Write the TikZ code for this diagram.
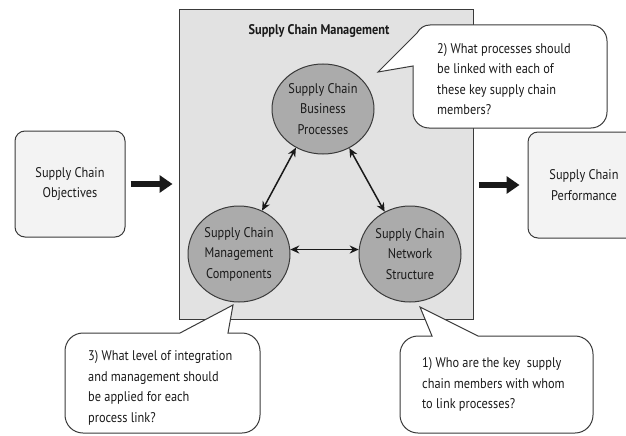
\documentclass[tikz,border=0pt]{standalone}
\usepackage{fontspec}
\setmainfont{PT Sans}[FakeStretch=0.88]
\usetikzlibrary{arrows.meta,shapes.geometric}
\definecolor{linec}{HTML}{3A3A3A}
\definecolor{textc}{HTML}{1A1A1A}
\definecolor{mainfill}{HTML}{E2E2E2}
\definecolor{sidefill}{HTML}{F3F3F3}
\definecolor{ellfill}{HTML}{ABABAB}
\begin{document}
\begin{tikzpicture}[x=1pt,y=-1pt,
  txt/.style={font=\fontsize{14}{20.5}\selectfont, text=textc},
  sidebox/.style={draw=linec, line width=1pt, fill=sidefill, rounded corners=10pt, txt, align=center, inner sep=0pt},
  bubble/.style={draw=linec, line width=1pt, fill=ellfill, ellipse, minimum width=102pt, inner sep=0pt, align=center, txt},
  bigarrow/.style={line width=5.5pt, -{Triangle[width=17pt,length=13pt]}, draw=black!90},
  link/.style={line width=1.5pt, draw=black!90, {Stealth[length=9pt,width=8pt]}-{Stealth[length=9pt,width=8pt]}},
  callout/.style={draw=linec, line width=1pt, fill=white},
  ctext/.style={txt, align=left, anchor=west, inner sep=0pt}]

\useasboundingbox (0,0) rectangle (626,436);
\clip (0,0) rectangle (626,436);

% side boxes
\node[sidebox, minimum width=110pt, minimum height=106pt] (obj) at (70,184) {Supply Chain\\Objectives};
\node[sidebox, minimum width=112pt, minimum height=106pt] (perf) at (584,185) {Supply Chain\\Performance};

% main box
\node[draw=linec, fill=mainfill, line width=1pt, minimum width=294pt, minimum height=309pt, inner sep=0pt] (scm) at (326,164.5) {};
\node[font=\fontsize{14}{16}\selectfont\bfseries, text=textc, inner sep=0pt] (title) at (319,31) {Supply Chain Management};

% ellipses
\node[bubble, minimum height=90pt] (top) at (323,109) {Supply Chain\\Business\\Processes};
\node[bubble, minimum height=96pt] (bl) at (239,254) {Supply Chain\\Management\\Components};
\node[bubble, minimum height=96pt] (br) at (410,254) {Supply Chain\\Network\\Structure};

% links
\draw[link] (top.235) -- (bl.62);
\draw[link] (top.304) -- (br.121);
\draw[link] (bl.5) -- (br.175);

% big arrows
\draw[bigarrow, shorten <=5pt, shorten >=6pt] (obj.east) -- (obj.east -| scm.west);
\draw[bigarrow, shorten <=5pt, shorten >=8pt] (scm.east |- perf.west) -- (perf.west);

% callouts
\draw[callout] (413,66) -- (378,72) -- (417,33) .. controls (420,28) and (424,25) .. (430,25) -- (591,25) .. controls (599.84,25) and (607,32.16) .. (607,41) -- (607,112) .. controls (607,120.84) and (599.84,128) .. (591,128) -- (429,128) .. controls (420.16,128) and (413,120.84) .. (413,112) -- cycle;
\draw[callout] (180,333) -- (233,305) -- (228,333) -- (242,333) .. controls (251.94,333) and (260,341.06) .. (260,351) -- (260,415) .. controls (260,424.94) and (251.94,433) .. (242,433) -- (83,433) .. controls (73.06,433) and (65,424.94) .. (65,415) -- (65,351) .. controls (65,341.06) and (73.06,333) .. (83,333) -- cycle;
\draw[callout] (432,336) -- (420,307) -- (478,336) -- (575,336) .. controls (584.94,336) and (593,344.06) .. (593,354) -- (593,415) .. controls (593,424.94) and (584.94,433) .. (575,433) -- (418,433) .. controls (408.06,433) and (400,424.94) .. (400,415) -- (400,354) .. controls (400,344.06) and (408.06,336) .. (418,336) -- cycle;

\node[ctext] (q2) at (437,79) {2) What processes should\\be linked with each of\\these key supply chain\\members?};
\node[ctext] (q3) at (88,388) {3) What level of integration\\and management should\\be applied for each\\process link?};
\node[ctext] (q1) at (422,384.5) {1) Who are the key\ \ supply\\chain members with whom\\to link processes?};
\end{tikzpicture}
\end{document}
